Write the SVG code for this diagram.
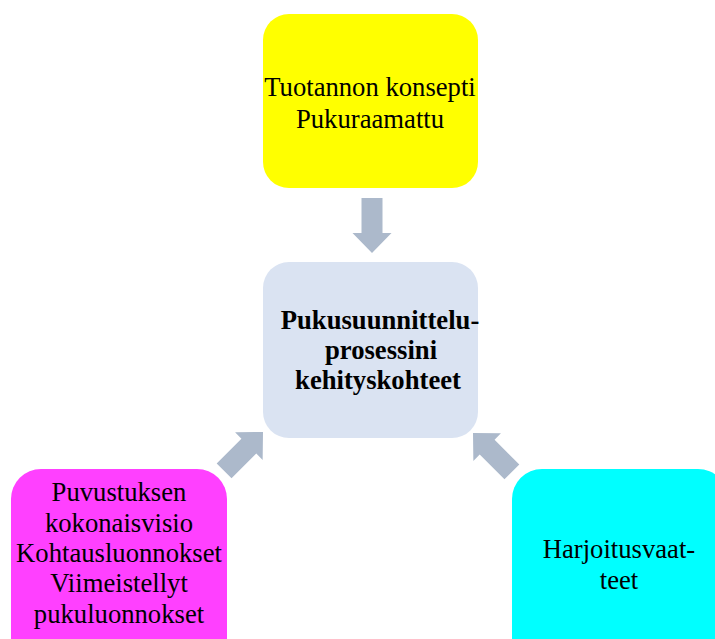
<svg xmlns="http://www.w3.org/2000/svg" width="715" height="639" viewBox="0 0 715 639">
<style>
.t{font-family:"Liberation Serif","Times New Roman",serif;font-size:26.67px;fill:#000;text-anchor:middle}
.b{font-weight:bold}
.arr{fill:#acb9cb}
</style>
<defs>
<path id="arrow" d="M-10.5,-55 L10.5,-55 L10.5,-20 L19.5,-20 L0,0 L-19.5,-20 L-10.5,-20 Z"/>
</defs>
<rect width="715" height="639" fill="#fff"/>
<g id="connectors">
<use href="#arrow" class="arr" transform="translate(372,253)"/>
<use href="#arrow" class="arr" transform="translate(263,432) rotate(-135)"/>
<use href="#arrow" class="arr" transform="translate(473,433) rotate(135)"/>
</g>
<g id="top">
<rect x="263" y="14" width="215" height="174" rx="26" fill="#ffff00"/>
<text class="t" x="370" y="96">Tuotannon konsepti</text>
<text class="t" x="370" y="128">Pukuraamattu</text>
</g>
<g id="center">
<rect x="263" y="262" width="215" height="176" rx="26" fill="#dae3f2"/>
<text class="t b" x="380" y="329">Pukusuunnittelu-</text>
<text class="t b" x="381" y="359">prosessini</text>
<text class="t b" x="378" y="389">kehityskohteet</text>
</g>
<g id="left">
<rect x="11" y="469" width="216" height="210" rx="30" fill="#ff40ff"/>
<text class="t" x="119" y="501">Puvustuksen</text>
<text class="t" x="119" y="532">kokonaisvisio</text>
<text class="t" x="119" y="562">Kohtausluonnokset</text>
<text class="t" x="119" y="592">Viimeistellyt</text>
<text class="t" x="119" y="623">pukuluonnokset</text>
</g>
<g id="right">
<rect x="512" y="469" width="216" height="210" rx="30" fill="#00ffff"/>
<text class="t" x="619" y="558">Harjoitusvaat-</text>
<text class="t" x="619" y="589">teet</text>
</g>
</svg>
